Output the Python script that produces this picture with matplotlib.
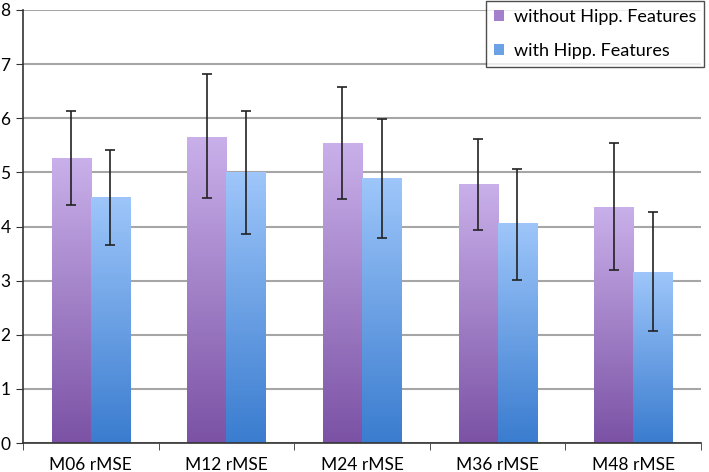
import matplotlib
matplotlib.use("Agg")
import matplotlib.pyplot as plt
import numpy as np
from matplotlib.colors import LinearSegmentedColormap
from matplotlib.patches import Patch

plt.rcParams['font.family'] = ['Lato', 'DejaVu Sans']

categories = ["M06 rMSE", "M12 rMSE", "M24 rMSE", "M36 rMSE", "M48 rMSE"]
without_vals = [5.26, 5.65, 5.53, 4.77, 4.36]
without_lo = [4.39, 4.52, 4.50, 3.94, 3.19]
without_hi = [6.13, 6.81, 6.57, 5.61, 5.55]
with_vals = [4.53, 5.00, 4.88, 4.05, 3.15]
with_lo = [3.65, 3.86, 3.78, 3.02, 2.07]
with_hi = [5.42, 6.13, 5.99, 5.07, 4.26]
labels = ["without Hipp. Features", "with Hipp. Features"]

purple = LinearSegmentedColormap.from_list("p", ["#7b52a5", "#c9b0ea"])
blue = LinearSegmentedColormap.from_list("b", ["#3a7ccf", "#9ec6fa"])

fig = plt.figure(figsize=(7.09, 4.72), dpi=100)
ax = fig.add_axes([23 / 709, 1 - 443 / 472, (701 - 23) / 709, 433 / 472])

x = np.arange(len(categories))
w = 0.288
grad = np.linspace(1, 0, 256).reshape(-1, 1)

for vals, lo, hi, off, cmap in [(without_vals, without_lo, without_hi, -w / 2, purple),
                                (with_vals, with_lo, with_hi, w / 2, blue)]:
    bars = ax.bar(x + off, vals, w, color="none", zorder=2)
    for b in bars:
        x0, y0 = b.get_x(), b.get_y()
        ax.imshow(grad, cmap=cmap, aspect="auto", zorder=2,
                  extent=[x0, x0 + b.get_width(), y0, y0 + b.get_height()])
    yerr = [np.array(vals) - np.array(lo), np.array(hi) - np.array(vals)]
    ax.errorbar(x + off, vals, yerr=yerr, fmt="none", ecolor="#222222",
                elinewidth=1.2, capsize=3.5, capthick=1.2, zorder=3)

ax.set_xlim(-0.5, len(categories) - 0.5)
ax.set_ylim(0, 8)
ax.set_yticks(range(0, 9))
ax.yaxis.grid(True, color="#a6a6a6", linewidth=1.5, zorder=0)
ax.set_axisbelow(True)
ax.set_xticks(x)
ax.set_xticklabels(categories, fontsize=12.5)
ax.set_xticks(np.arange(-0.5, len(categories)), minor=True)
ax.tick_params(axis="x", which="major", length=0, pad=10)
ax.tick_params(axis="x", which="minor", length=5, color="#333333")
ax.tick_params(axis="y", length=5, labelsize=12.5, pad=4, color="#333333")
for s in ["top", "right"]:
    ax.spines[s].set_visible(False)
for s in ["left", "bottom"]:
    ax.spines[s].set_color("#333333")
    ax.spines[s].set_linewidth(1.2)

handles = [Patch(facecolor="#a37fcc"), Patch(facecolor="#6ba2e6")]
leg = fig.legend(handles, labels, loc="upper right", bbox_to_anchor=(704 / 709, 1 - 1 / 472),
                 fontsize=13, frameon=True, fancybox=False, edgecolor="#222222",
                 handlelength=0.55, handleheight=0.55, handletextpad=0.55,
                 labelspacing=1.0, borderpad=0.45, borderaxespad=0)
leg.get_frame().set_linewidth(1.0)

fig.savefig("out.png", dpi=100)
